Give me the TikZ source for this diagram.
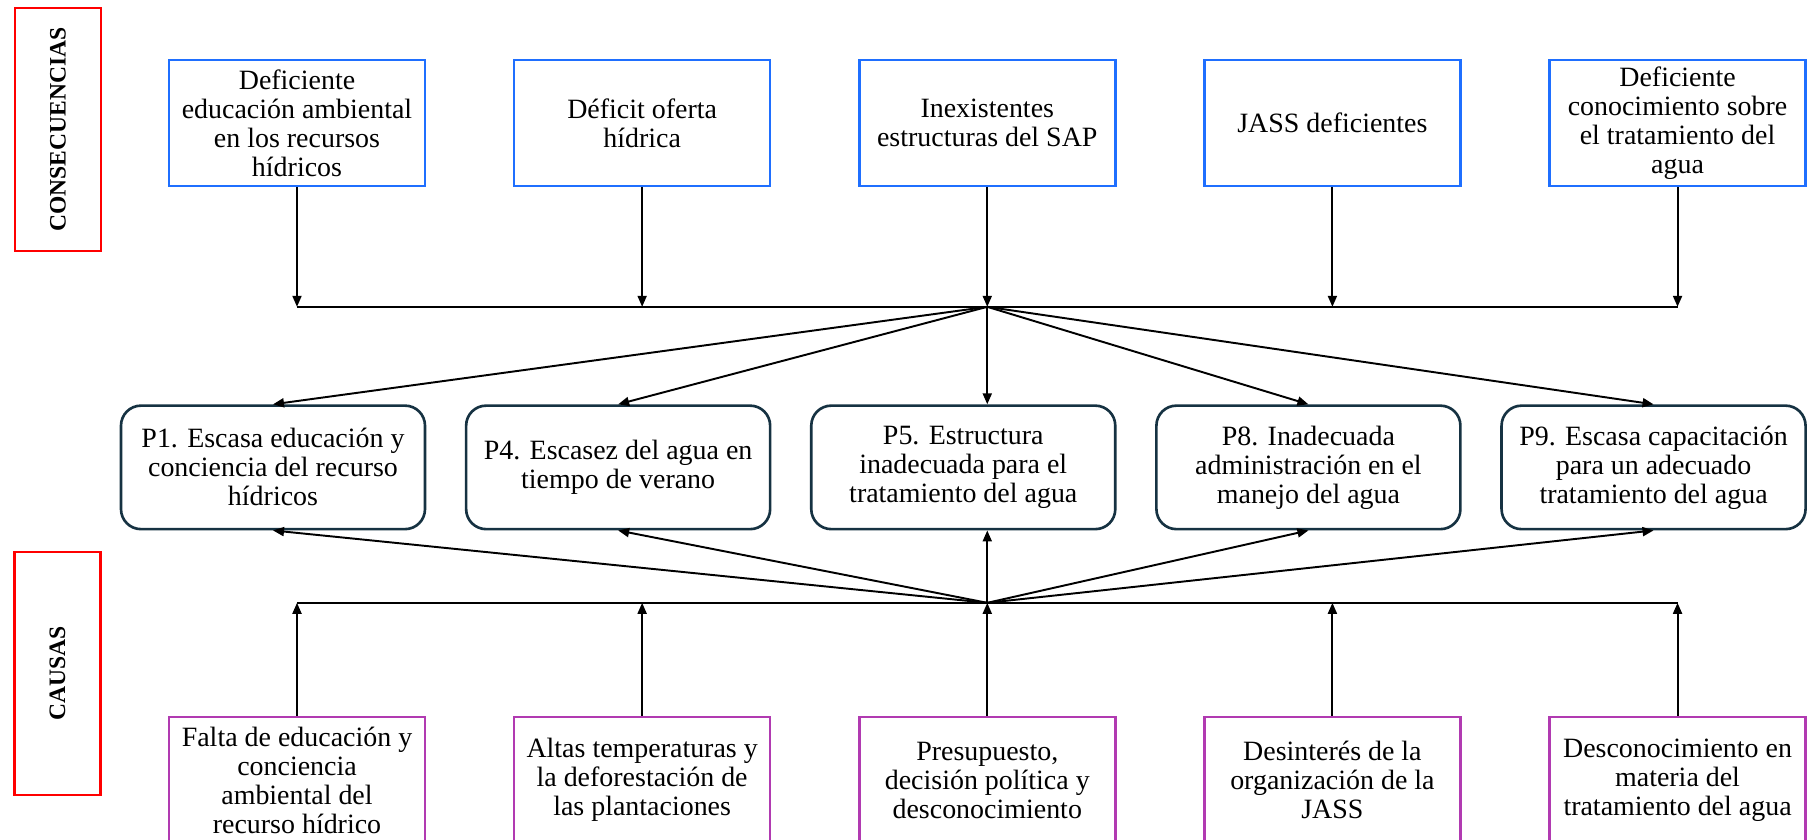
\documentclass[tikz,border=0pt]{standalone}
\usepackage{fontspec}
\setmainfont{Liberation Serif}
\usepackage{tikz}
\usetikzlibrary{arrows.meta,positioning}
\definecolor{consecolor}{RGB}{31,111,255}
\definecolor{probcolor}{RGB}{22,50,66}
\definecolor{causecolor}{RGB}{177,58,177}
\definecolor{labelcolor}{RGB}{255,0,0}

\begin{document}
\begin{tikzpicture}[
    node distance=4.34cm and 1.73cm,
    conblock/.style={rectangle, draw=consecolor, line width=1.5pt, align=center, minimum width=5.12cm, minimum height=2.52cm, font=\fontsize{15.9}{16.5}\selectfont},
    probblock/.style={rectangle, draw=probcolor, line width=1.5pt, rounded corners=0.4cm, align=center, minimum width=6.08cm, minimum height=2.47cm, font=\fontsize{15.9}{16.5}\selectfont},
    causeblock/.style={rectangle, draw=causecolor, line width=1.5pt, align=center, minimum width=5.12cm, minimum height=2.52cm, font=\fontsize{15.9}{16.5}\selectfont},
    sidelabel/.style={rectangle, draw=labelcolor, line width=1.4pt, rotate=90, minimum width=4.86cm, minimum height=1.72cm, font=\fontsize{13.4}{14}\selectfont\bfseries},
    arrow/.style={-{Triangle[length=0.22cm,width=0.18cm]}, line width=1.1pt, black},
    joint/.style={line width=1.1pt, black}
]
    \useasboundingbox (0,0) rectangle (36.14,-16.8);

    % Etiquetas laterales
    \node[sidelabel] (cons) at (1.16,-2.59) {CONSECUENCIAS};
    \node[sidelabel] (caus) at (1.15,-13.47) {CAUSAS};

    % Consecuencias
    \node[conblock] (c1) at (5.94,-2.46) {Deficiente\\educación ambiental\\en los recursos\\hídricos};
    \node[conblock, right=of c1] (c2) {Déficit oferta\\hídrica};
    \node[conblock, right=of c2] (c3) {Inexistentes\\estructuras del SAP};
    \node[conblock, right=of c3] (c4) {JASS deficientes};
    \node[conblock, right=of c4] (c5) {Deficiente\\conocimiento sobre\\el tratamiento del\\agua};

    % Problemas
    \node[probblock, below=of c1.south east, anchor=north east] (p1) {P1. Escasa educación y\\conciencia del recurso\\hídricos};
    \node[probblock, right=0.77cm of p1] (p2) {P4. Escasez del agua en\\tiempo de verano};
    \node[probblock, right=0.77cm of p2] (p3) {P5. Estructura\\inadecuada para el\\tratamiento del agua};
    \node[probblock, right=0.77cm of p3] (p4) {P8. Inadecuada\\administración en el\\manejo del agua};
    \node[probblock, right=0.77cm of p4] (p5) {P9. Escasa capacitación\\para un adecuado\\tratamiento del agua};

    % Causas
    \node[causeblock, below=10.57cm of c1] (b1) {Falta de educación y\\conciencia\\ambiental del\\recurso hídrico};
    \node[causeblock, right=of b1] (b2) {Altas temperaturas y\\la deforestación de\\las plantaciones};
    \node[causeblock, right=of b2] (b3) {Presupuesto,\\decisión política y\\desconocimiento};
    \node[causeblock, right=of b3] (b4) {Desinterés de la\\organización de la\\JASS};
    \node[causeblock, right=of b4] (b5) {Desconocimiento en\\materia del\\tratamiento del agua};

    \coordinate[below=2.39cm of c3.south] (htop);
    \coordinate[above=2.26cm of b3.north] (hbot);

    \draw[arrow] (c1.south) -- (c1.south |- htop);
    \draw[arrow] (c2.south) -- (c2.south |- htop);
    \draw[arrow] (c3.south) -- (htop);
    \draw[arrow] (c4.south) -- (c4.south |- htop);
    \draw[arrow] (c5.south) -- (c5.south |- htop);
    \draw[joint] (c1.south |- htop) -- (c5.south |- htop);

    \draw[arrow] (htop) -- (p1.north);
    \draw[arrow] (htop) -- (p2.north);
    \draw[arrow] (htop) -- (htop |- p3.north);
    \draw[arrow] (htop) -- (p4.north);
    \draw[arrow] (htop) -- (p5.north);

    \draw[arrow] (b1.north) -- (b1.north |- hbot);
    \draw[arrow] (b2.north) -- (b2.north |- hbot);
    \draw[arrow] (b3.north) -- (hbot);
    \draw[arrow] (b4.north) -- (b4.north |- hbot);
    \draw[arrow] (b5.north) -- (b5.north |- hbot);
    \draw[joint] (b1.north |- hbot) -- (b5.north |- hbot);

    \draw[arrow] (hbot) -- (p1.south);
    \draw[arrow] (hbot) -- (p2.south);
    \draw[arrow] (hbot) -- (hbot |- p3.south);
    \draw[arrow] (hbot) -- (p4.south);
    \draw[arrow] (hbot) -- (p5.south);
\end{tikzpicture}
\end{document}
